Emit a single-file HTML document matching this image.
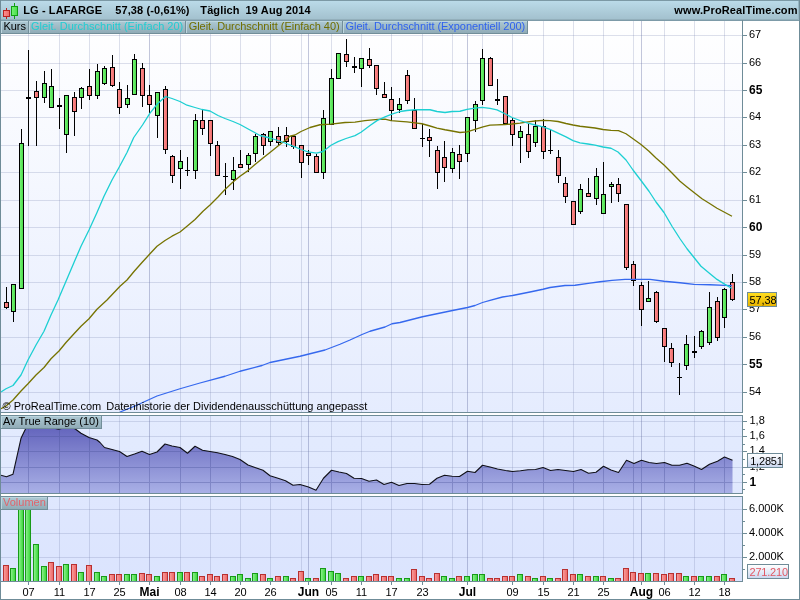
<!DOCTYPE html>
<html lang="de"><head><meta charset="utf-8"><title>LG - LAFARGE</title>
<style>html,body{margin:0;padding:0;background:#fff;overflow:hidden}svg{display:block}text{font-family:"Liberation Sans",Arial,sans-serif;font-size:11px;fill:#000}.b{font-weight:bold;letter-spacing:0.12px}.B{font-weight:bold;font-size:12px}</style></head><body>
<svg width="800" height="600" viewBox="0 0 800 600">
<defs>
<linearGradient id="hdr" x1="0" y1="0" x2="0" y2="1"><stop offset="0" stop-color="#bcdcea"/><stop offset="1" stop-color="#a2c0cd"/></linearGradient>
<linearGradient id="lbl" x1="0" y1="0" x2="0" y2="1"><stop offset="0" stop-color="#adc9d4"/><stop offset="1" stop-color="#8ea9b4"/></linearGradient>
<linearGradient id="bg" x1="0" y1="0" x2="0" y2="1"><stop offset="0" stop-color="#ffffff"/><stop offset="1" stop-color="#e5ecfe"/></linearGradient>
<linearGradient id="bg2" x1="0" y1="0" x2="0" y2="1"><stop offset="0" stop-color="#e3ebfe"/><stop offset="1" stop-color="#e0e8fe"/></linearGradient>
<linearGradient id="bg3" x1="0" y1="0" x2="0" y2="1"><stop offset="0" stop-color="#dfe7fe"/><stop offset="1" stop-color="#dbe4fe"/></linearGradient>
<linearGradient id="atr" gradientUnits="userSpaceOnUse" x1="0" y1="416" x2="0" y2="493"><stop offset="0" stop-color="#5858b6"/><stop offset="1" stop-color="#a9b0e6"/></linearGradient>
<linearGradient id="gold" x1="0" y1="0" x2="0" y2="1"><stop offset="0" stop-color="#ffde20"/><stop offset="1" stop-color="#e8b400"/></linearGradient>
<linearGradient id="vbox" x1="0" y1="0" x2="0" y2="1"><stop offset="0" stop-color="#ffffff"/><stop offset="1" stop-color="#ccd8f0"/></linearGradient>
<linearGradient id="vg" x1="0" y1="0" x2="1" y2="0"><stop offset="0" stop-color="#8af08a"/><stop offset="1" stop-color="#3fd83f"/></linearGradient>
<linearGradient id="vr" x1="0" y1="0" x2="1" y2="0"><stop offset="0" stop-color="#f89a9a"/><stop offset="1" stop-color="#ee6a6a"/></linearGradient>
<linearGradient id="cg" x1="0" y1="0" x2="1" y2="0"><stop offset="0" stop-color="#74f274"/><stop offset="1" stop-color="#4cde4c"/></linearGradient>
<linearGradient id="cr" x1="0" y1="0" x2="1" y2="0"><stop offset="0" stop-color="#ff8c8c"/><stop offset="1" stop-color="#ec6c6c"/></linearGradient>
<clipPath id="cm"><rect x="1" y="21" width="741" height="391"/></clipPath>
<clipPath id="ca"><rect x="1" y="416" width="741" height="77"/></clipPath>
<clipPath id="cv"><rect x="1" y="497" width="741" height="84"/></clipPath>
</defs>
<rect x="0" y="0" width="800" height="600" fill="#ffffff"/>
<rect x="0" y="0" width="800" height="20" fill="url(#hdr)"/>
<rect x="0" y="19" width="800" height="1" fill="#93afbb" shape-rendering="crispEdges"/>
<rect x="798" y="1" width="1" height="19" fill="#98b6c3" shape-rendering="crispEdges"/>
<rect x="0" y="0" width="800" height="1" fill="#7c99a5" shape-rendering="crispEdges"/>
<rect x="1" y="21" width="741" height="391" fill="url(#bg)"/>
<rect x="1" y="416" width="741" height="77" fill="url(#bg2)"/>
<rect x="1" y="497" width="741" height="84" fill="url(#bg3)"/>
<g shape-rendering="crispEdges">
<rect x="1" y="35" width="741" height="1" fill="rgba(119,130,177,0.25)"/>
<rect x="1" y="63" width="741" height="1" fill="rgba(119,130,177,0.25)"/>
<rect x="1" y="90" width="741" height="1" fill="rgba(119,130,177,0.25)"/>
<rect x="1" y="117" width="741" height="1" fill="rgba(119,130,177,0.25)"/>
<rect x="1" y="145" width="741" height="1" fill="rgba(119,130,177,0.25)"/>
<rect x="1" y="172" width="741" height="1" fill="rgba(119,130,177,0.25)"/>
<rect x="1" y="200" width="741" height="1" fill="rgba(119,130,177,0.25)"/>
<rect x="1" y="227" width="741" height="1" fill="rgba(119,130,177,0.25)"/>
<rect x="1" y="255" width="741" height="1" fill="rgba(119,130,177,0.25)"/>
<rect x="1" y="282" width="741" height="1" fill="rgba(119,130,177,0.25)"/>
<rect x="1" y="309" width="741" height="1" fill="rgba(119,130,177,0.25)"/>
<rect x="1" y="337" width="741" height="1" fill="rgba(119,130,177,0.25)"/>
<rect x="1" y="364" width="741" height="1" fill="rgba(119,130,177,0.25)"/>
<rect x="1" y="392" width="741" height="1" fill="rgba(119,130,177,0.25)"/>
<rect x="1" y="421" width="741" height="1" fill="rgba(119,130,177,0.25)"/>
<rect x="1" y="436" width="741" height="1" fill="rgba(119,130,177,0.25)"/>
<rect x="1" y="451" width="741" height="1" fill="rgba(119,130,177,0.25)"/>
<rect x="1" y="467" width="741" height="1" fill="rgba(119,130,177,0.25)"/>
<rect x="1" y="482" width="741" height="1" fill="rgba(119,130,177,0.25)"/>
<rect x="1" y="509" width="741" height="1" fill="rgba(119,130,177,0.25)"/>
<rect x="1" y="533" width="741" height="1" fill="rgba(119,130,177,0.25)"/>
<rect x="1" y="557" width="741" height="1" fill="rgba(119,130,177,0.25)"/>
<rect x="28" y="21" width="1" height="391" fill="rgba(119,130,177,0.25)"/>
<rect x="28" y="416" width="1" height="77" fill="rgba(119,130,177,0.25)"/>
<rect x="28" y="497" width="1" height="84" fill="rgba(119,130,177,0.25)"/>
<rect x="59" y="21" width="1" height="391" fill="rgba(119,130,177,0.25)"/>
<rect x="59" y="416" width="1" height="77" fill="rgba(119,130,177,0.25)"/>
<rect x="59" y="497" width="1" height="84" fill="rgba(119,130,177,0.25)"/>
<rect x="89" y="21" width="1" height="391" fill="rgba(119,130,177,0.25)"/>
<rect x="89" y="416" width="1" height="77" fill="rgba(119,130,177,0.25)"/>
<rect x="89" y="497" width="1" height="84" fill="rgba(119,130,177,0.25)"/>
<rect x="119" y="21" width="1" height="391" fill="rgba(119,130,177,0.25)"/>
<rect x="119" y="416" width="1" height="77" fill="rgba(119,130,177,0.25)"/>
<rect x="119" y="497" width="1" height="84" fill="rgba(119,130,177,0.25)"/>
<rect x="149" y="21" width="1" height="391" fill="rgba(105,115,165,0.40)"/>
<rect x="149" y="416" width="1" height="77" fill="rgba(105,115,165,0.40)"/>
<rect x="149" y="497" width="1" height="84" fill="rgba(105,115,165,0.40)"/>
<rect x="180" y="21" width="1" height="391" fill="rgba(119,130,177,0.25)"/>
<rect x="180" y="416" width="1" height="77" fill="rgba(119,130,177,0.25)"/>
<rect x="180" y="497" width="1" height="84" fill="rgba(119,130,177,0.25)"/>
<rect x="210" y="21" width="1" height="391" fill="rgba(119,130,177,0.25)"/>
<rect x="210" y="416" width="1" height="77" fill="rgba(119,130,177,0.25)"/>
<rect x="210" y="497" width="1" height="84" fill="rgba(119,130,177,0.25)"/>
<rect x="240" y="21" width="1" height="391" fill="rgba(119,130,177,0.25)"/>
<rect x="240" y="416" width="1" height="77" fill="rgba(119,130,177,0.25)"/>
<rect x="240" y="497" width="1" height="84" fill="rgba(119,130,177,0.25)"/>
<rect x="270" y="21" width="1" height="391" fill="rgba(119,130,177,0.25)"/>
<rect x="270" y="416" width="1" height="77" fill="rgba(119,130,177,0.25)"/>
<rect x="270" y="497" width="1" height="84" fill="rgba(119,130,177,0.25)"/>
<rect x="301" y="21" width="1" height="391" fill="rgba(119,130,177,0.25)"/>
<rect x="301" y="416" width="1" height="77" fill="rgba(119,130,177,0.25)"/>
<rect x="301" y="497" width="1" height="84" fill="rgba(119,130,177,0.25)"/>
<rect x="331" y="21" width="1" height="391" fill="rgba(119,130,177,0.25)"/>
<rect x="331" y="416" width="1" height="77" fill="rgba(119,130,177,0.25)"/>
<rect x="331" y="497" width="1" height="84" fill="rgba(119,130,177,0.25)"/>
<rect x="361" y="21" width="1" height="391" fill="rgba(119,130,177,0.25)"/>
<rect x="361" y="416" width="1" height="77" fill="rgba(119,130,177,0.25)"/>
<rect x="361" y="497" width="1" height="84" fill="rgba(119,130,177,0.25)"/>
<rect x="391" y="21" width="1" height="391" fill="rgba(119,130,177,0.25)"/>
<rect x="391" y="416" width="1" height="77" fill="rgba(119,130,177,0.25)"/>
<rect x="391" y="497" width="1" height="84" fill="rgba(119,130,177,0.25)"/>
<rect x="422" y="21" width="1" height="391" fill="rgba(119,130,177,0.25)"/>
<rect x="422" y="416" width="1" height="77" fill="rgba(119,130,177,0.25)"/>
<rect x="422" y="497" width="1" height="84" fill="rgba(119,130,177,0.25)"/>
<rect x="452" y="21" width="1" height="391" fill="rgba(119,130,177,0.25)"/>
<rect x="452" y="416" width="1" height="77" fill="rgba(119,130,177,0.25)"/>
<rect x="452" y="497" width="1" height="84" fill="rgba(119,130,177,0.25)"/>
<rect x="482" y="21" width="1" height="391" fill="rgba(119,130,177,0.25)"/>
<rect x="482" y="416" width="1" height="77" fill="rgba(119,130,177,0.25)"/>
<rect x="482" y="497" width="1" height="84" fill="rgba(119,130,177,0.25)"/>
<rect x="512" y="21" width="1" height="391" fill="rgba(119,130,177,0.25)"/>
<rect x="512" y="416" width="1" height="77" fill="rgba(119,130,177,0.25)"/>
<rect x="512" y="497" width="1" height="84" fill="rgba(119,130,177,0.25)"/>
<rect x="543" y="21" width="1" height="391" fill="rgba(119,130,177,0.25)"/>
<rect x="543" y="416" width="1" height="77" fill="rgba(119,130,177,0.25)"/>
<rect x="543" y="497" width="1" height="84" fill="rgba(119,130,177,0.25)"/>
<rect x="573" y="21" width="1" height="391" fill="rgba(119,130,177,0.25)"/>
<rect x="573" y="416" width="1" height="77" fill="rgba(119,130,177,0.25)"/>
<rect x="573" y="497" width="1" height="84" fill="rgba(119,130,177,0.25)"/>
<rect x="603" y="21" width="1" height="391" fill="rgba(119,130,177,0.25)"/>
<rect x="603" y="416" width="1" height="77" fill="rgba(119,130,177,0.25)"/>
<rect x="603" y="497" width="1" height="84" fill="rgba(119,130,177,0.25)"/>
<rect x="633" y="21" width="1" height="391" fill="rgba(119,130,177,0.25)"/>
<rect x="633" y="416" width="1" height="77" fill="rgba(119,130,177,0.25)"/>
<rect x="633" y="497" width="1" height="84" fill="rgba(119,130,177,0.25)"/>
<rect x="664" y="21" width="1" height="391" fill="rgba(119,130,177,0.25)"/>
<rect x="664" y="416" width="1" height="77" fill="rgba(119,130,177,0.25)"/>
<rect x="664" y="497" width="1" height="84" fill="rgba(119,130,177,0.25)"/>
<rect x="694" y="21" width="1" height="391" fill="rgba(119,130,177,0.25)"/>
<rect x="694" y="416" width="1" height="77" fill="rgba(119,130,177,0.25)"/>
<rect x="694" y="497" width="1" height="84" fill="rgba(119,130,177,0.25)"/>
<rect x="724" y="21" width="1" height="391" fill="rgba(119,130,177,0.25)"/>
<rect x="724" y="416" width="1" height="77" fill="rgba(119,130,177,0.25)"/>
<rect x="724" y="497" width="1" height="84" fill="rgba(119,130,177,0.25)"/>
<rect x="308" y="21" width="1" height="391" fill="rgba(105,115,165,0.40)"/>
<rect x="308" y="416" width="1" height="77" fill="rgba(105,115,165,0.40)"/>
<rect x="308" y="497" width="1" height="84" fill="rgba(105,115,165,0.40)"/>
<rect x="467" y="21" width="1" height="391" fill="rgba(105,115,165,0.40)"/>
<rect x="467" y="416" width="1" height="77" fill="rgba(105,115,165,0.40)"/>
<rect x="467" y="497" width="1" height="84" fill="rgba(105,115,165,0.40)"/>
<rect x="641" y="21" width="1" height="391" fill="rgba(105,115,165,0.40)"/>
<rect x="641" y="416" width="1" height="77" fill="rgba(105,115,165,0.40)"/>
<rect x="641" y="497" width="1" height="84" fill="rgba(105,115,165,0.40)"/>
</g>
<g shape-rendering="crispEdges" clip-path="url(#cm)">
<rect x="6" y="287" width="1" height="22" fill="#000"/>
<rect x="4" y="302" width="5" height="6" fill="#000"/>
<rect x="5" y="303" width="3" height="4" fill="url(#cr)"/>
<rect x="13" y="284" width="1" height="38" fill="#000"/>
<rect x="11" y="284" width="5" height="28" fill="#000"/>
<rect x="12" y="285" width="3" height="26" fill="url(#cg)"/>
<rect x="21" y="129" width="1" height="160" fill="#000"/>
<rect x="19" y="143" width="5" height="146" fill="#000"/>
<rect x="20" y="144" width="3" height="144" fill="url(#cg)"/>
<rect x="28" y="50" width="1" height="96" fill="#000"/>
<rect x="26" y="97" width="5" height="2" fill="#000"/>
<rect x="36" y="81" width="1" height="65" fill="#000"/>
<rect x="34" y="91" width="5" height="7" fill="#000"/>
<rect x="35" y="92" width="3" height="5" fill="url(#cr)"/>
<rect x="44" y="71" width="1" height="32" fill="#000"/>
<rect x="42" y="83" width="5" height="15" fill="#000"/>
<rect x="43" y="84" width="3" height="13" fill="url(#cg)"/>
<rect x="51" y="69" width="1" height="39" fill="#000"/>
<rect x="49" y="86" width="5" height="22" fill="#000"/>
<rect x="50" y="87" width="3" height="20" fill="url(#cg)"/>
<rect x="59" y="98" width="1" height="31" fill="#000"/>
<rect x="57" y="105" width="5" height="2" fill="#000"/>
<rect x="66" y="95" width="1" height="58" fill="#000"/>
<rect x="64" y="95" width="5" height="40" fill="#000"/>
<rect x="65" y="96" width="3" height="38" fill="url(#cg)"/>
<rect x="74" y="92" width="1" height="44" fill="#000"/>
<rect x="72" y="97" width="5" height="15" fill="#000"/>
<rect x="73" y="98" width="3" height="13" fill="url(#cr)"/>
<rect x="81" y="87" width="1" height="22" fill="#000"/>
<rect x="79" y="88" width="5" height="10" fill="#000"/>
<rect x="80" y="89" width="3" height="8" fill="url(#cg)"/>
<rect x="89" y="69" width="1" height="31" fill="#000"/>
<rect x="87" y="86" width="5" height="10" fill="#000"/>
<rect x="88" y="87" width="3" height="8" fill="url(#cr)"/>
<rect x="97" y="64" width="1" height="35" fill="#000"/>
<rect x="95" y="71" width="5" height="25" fill="#000"/>
<rect x="96" y="72" width="3" height="23" fill="url(#cg)"/>
<rect x="104" y="66" width="1" height="19" fill="#000"/>
<rect x="102" y="68" width="5" height="16" fill="#000"/>
<rect x="103" y="69" width="3" height="14" fill="url(#cg)"/>
<rect x="112" y="55" width="1" height="32" fill="#000"/>
<rect x="110" y="67" width="5" height="19" fill="#000"/>
<rect x="111" y="68" width="3" height="17" fill="url(#cr)"/>
<rect x="119" y="82" width="1" height="32" fill="#000"/>
<rect x="117" y="89" width="5" height="19" fill="#000"/>
<rect x="118" y="90" width="3" height="17" fill="url(#cr)"/>
<rect x="127" y="85" width="1" height="23" fill="#000"/>
<rect x="125" y="98" width="5" height="7" fill="#000"/>
<rect x="126" y="99" width="3" height="5" fill="url(#cg)"/>
<rect x="134" y="54" width="1" height="41" fill="#000"/>
<rect x="132" y="59" width="5" height="36" fill="#000"/>
<rect x="133" y="60" width="3" height="34" fill="url(#cg)"/>
<rect x="142" y="63" width="1" height="44" fill="#000"/>
<rect x="140" y="68" width="5" height="28" fill="#000"/>
<rect x="141" y="69" width="3" height="26" fill="url(#cr)"/>
<rect x="149" y="85" width="1" height="28" fill="#000"/>
<rect x="147" y="95" width="5" height="10" fill="#000"/>
<rect x="148" y="96" width="3" height="8" fill="url(#cr)"/>
<rect x="157" y="92" width="1" height="46" fill="#000"/>
<rect x="155" y="92" width="5" height="24" fill="#000"/>
<rect x="156" y="93" width="3" height="22" fill="url(#cg)"/>
<rect x="165" y="86" width="1" height="68" fill="#000"/>
<rect x="163" y="89" width="5" height="61" fill="#000"/>
<rect x="164" y="90" width="3" height="59" fill="url(#cr)"/>
<rect x="172" y="155" width="1" height="28" fill="#000"/>
<rect x="170" y="156" width="5" height="20" fill="#000"/>
<rect x="171" y="157" width="3" height="18" fill="url(#cr)"/>
<rect x="180" y="150" width="1" height="39" fill="#000"/>
<rect x="178" y="161" width="5" height="8" fill="#000"/>
<rect x="179" y="162" width="3" height="6" fill="url(#cg)"/>
<rect x="187" y="157" width="1" height="19" fill="#000"/>
<rect x="185" y="170" width="5" height="1" fill="#000"/>
<rect x="195" y="114" width="1" height="65" fill="#000"/>
<rect x="193" y="120" width="5" height="51" fill="#000"/>
<rect x="194" y="121" width="3" height="49" fill="url(#cg)"/>
<rect x="202" y="110" width="1" height="25" fill="#000"/>
<rect x="200" y="120" width="5" height="9" fill="#000"/>
<rect x="201" y="121" width="3" height="7" fill="url(#cr)"/>
<rect x="210" y="120" width="1" height="36" fill="#000"/>
<rect x="208" y="120" width="5" height="24" fill="#000"/>
<rect x="209" y="121" width="3" height="22" fill="url(#cr)"/>
<rect x="217" y="141" width="1" height="35" fill="#000"/>
<rect x="215" y="145" width="5" height="31" fill="#000"/>
<rect x="216" y="146" width="3" height="29" fill="url(#cr)"/>
<rect x="225" y="163" width="1" height="32" fill="#000"/>
<rect x="223" y="176" width="5" height="1" fill="#000"/>
<rect x="233" y="157" width="1" height="33" fill="#000"/>
<rect x="231" y="170" width="5" height="10" fill="#000"/>
<rect x="232" y="171" width="3" height="8" fill="url(#cg)"/>
<rect x="240" y="150" width="1" height="18" fill="#000"/>
<rect x="238" y="164" width="5" height="4" fill="#000"/>
<rect x="239" y="165" width="3" height="2" fill="url(#cr)"/>
<rect x="248" y="153" width="1" height="19" fill="#000"/>
<rect x="246" y="155" width="5" height="10" fill="#000"/>
<rect x="247" y="156" width="3" height="8" fill="url(#cg)"/>
<rect x="255" y="134" width="1" height="28" fill="#000"/>
<rect x="253" y="136" width="5" height="18" fill="#000"/>
<rect x="254" y="137" width="3" height="16" fill="url(#cg)"/>
<rect x="263" y="133" width="1" height="22" fill="#000"/>
<rect x="261" y="134" width="5" height="12" fill="#000"/>
<rect x="262" y="135" width="3" height="10" fill="url(#cr)"/>
<rect x="270" y="131" width="1" height="15" fill="#000"/>
<rect x="268" y="131" width="5" height="11" fill="#000"/>
<rect x="269" y="132" width="3" height="9" fill="url(#cg)"/>
<rect x="278" y="127" width="1" height="18" fill="#000"/>
<rect x="276" y="136" width="5" height="7" fill="#000"/>
<rect x="277" y="137" width="3" height="5" fill="url(#cr)"/>
<rect x="286" y="127" width="1" height="20" fill="#000"/>
<rect x="284" y="135" width="5" height="7" fill="#000"/>
<rect x="285" y="136" width="3" height="5" fill="url(#cr)"/>
<rect x="293" y="136" width="1" height="13" fill="#000"/>
<rect x="291" y="136" width="5" height="11" fill="#000"/>
<rect x="292" y="137" width="3" height="9" fill="url(#cr)"/>
<rect x="301" y="145" width="1" height="33" fill="#000"/>
<rect x="299" y="145" width="5" height="18" fill="#000"/>
<rect x="300" y="146" width="3" height="16" fill="url(#cr)"/>
<rect x="308" y="150" width="1" height="15" fill="#000"/>
<rect x="306" y="153" width="5" height="3" fill="#000"/>
<rect x="307" y="154" width="3" height="1" fill="url(#cr)"/>
<rect x="316" y="154" width="1" height="19" fill="#000"/>
<rect x="314" y="156" width="5" height="17" fill="#000"/>
<rect x="315" y="157" width="3" height="15" fill="url(#cr)"/>
<rect x="323" y="110" width="1" height="69" fill="#000"/>
<rect x="321" y="118" width="5" height="55" fill="#000"/>
<rect x="322" y="119" width="3" height="53" fill="url(#cg)"/>
<rect x="331" y="69" width="1" height="56" fill="#000"/>
<rect x="329" y="78" width="5" height="47" fill="#000"/>
<rect x="330" y="79" width="3" height="45" fill="url(#cg)"/>
<rect x="338" y="53" width="1" height="26" fill="#000"/>
<rect x="336" y="53" width="5" height="26" fill="#000"/>
<rect x="337" y="54" width="3" height="24" fill="url(#cg)"/>
<rect x="346" y="39" width="1" height="28" fill="#000"/>
<rect x="344" y="54" width="5" height="8" fill="#000"/>
<rect x="345" y="55" width="3" height="6" fill="url(#cr)"/>
<rect x="354" y="57" width="1" height="16" fill="#000"/>
<rect x="352" y="66" width="5" height="2" fill="#000"/>
<rect x="361" y="58" width="1" height="29" fill="#000"/>
<rect x="359" y="58" width="5" height="11" fill="#000"/>
<rect x="360" y="59" width="3" height="9" fill="url(#cg)"/>
<rect x="369" y="48" width="1" height="20" fill="#000"/>
<rect x="367" y="59" width="5" height="7" fill="#000"/>
<rect x="368" y="60" width="3" height="5" fill="url(#cr)"/>
<rect x="376" y="65" width="1" height="30" fill="#000"/>
<rect x="374" y="65" width="5" height="24" fill="#000"/>
<rect x="375" y="66" width="3" height="22" fill="url(#cr)"/>
<rect x="384" y="82" width="1" height="16" fill="#000"/>
<rect x="382" y="94" width="5" height="4" fill="#000"/>
<rect x="383" y="95" width="3" height="2" fill="url(#cr)"/>
<rect x="391" y="87" width="1" height="34" fill="#000"/>
<rect x="389" y="99" width="5" height="12" fill="#000"/>
<rect x="390" y="100" width="3" height="10" fill="url(#cr)"/>
<rect x="399" y="98" width="1" height="15" fill="#000"/>
<rect x="397" y="104" width="5" height="6" fill="#000"/>
<rect x="398" y="105" width="3" height="4" fill="url(#cg)"/>
<rect x="407" y="70" width="1" height="34" fill="#000"/>
<rect x="405" y="75" width="5" height="26" fill="#000"/>
<rect x="406" y="76" width="3" height="24" fill="url(#cr)"/>
<rect x="414" y="98" width="1" height="31" fill="#000"/>
<rect x="412" y="110" width="5" height="19" fill="#000"/>
<rect x="413" y="111" width="3" height="17" fill="url(#cr)"/>
<rect x="422" y="124" width="1" height="23" fill="#000"/>
<rect x="420" y="138" width="5" height="1" fill="#000"/>
<rect x="429" y="129" width="1" height="28" fill="#000"/>
<rect x="427" y="137" width="5" height="4" fill="#000"/>
<rect x="428" y="138" width="3" height="2" fill="url(#cr)"/>
<rect x="437" y="146" width="1" height="43" fill="#000"/>
<rect x="435" y="150" width="5" height="23" fill="#000"/>
<rect x="436" y="151" width="3" height="21" fill="url(#cr)"/>
<rect x="444" y="141" width="1" height="41" fill="#000"/>
<rect x="442" y="157" width="5" height="11" fill="#000"/>
<rect x="443" y="158" width="3" height="9" fill="url(#cr)"/>
<rect x="452" y="148" width="1" height="25" fill="#000"/>
<rect x="450" y="152" width="5" height="17" fill="#000"/>
<rect x="451" y="153" width="3" height="15" fill="url(#cg)"/>
<rect x="459" y="145" width="1" height="34" fill="#000"/>
<rect x="457" y="154" width="5" height="8" fill="#000"/>
<rect x="458" y="155" width="3" height="6" fill="url(#cr)"/>
<rect x="467" y="117" width="1" height="45" fill="#000"/>
<rect x="465" y="117" width="5" height="37" fill="#000"/>
<rect x="466" y="118" width="3" height="35" fill="url(#cg)"/>
<rect x="475" y="101" width="1" height="31" fill="#000"/>
<rect x="473" y="104" width="5" height="17" fill="#000"/>
<rect x="474" y="105" width="3" height="15" fill="url(#cg)"/>
<rect x="482" y="49" width="1" height="56" fill="#000"/>
<rect x="480" y="58" width="5" height="43" fill="#000"/>
<rect x="481" y="59" width="3" height="41" fill="url(#cg)"/>
<rect x="490" y="57" width="1" height="29" fill="#000"/>
<rect x="488" y="58" width="5" height="28" fill="#000"/>
<rect x="489" y="59" width="3" height="26" fill="url(#cr)"/>
<rect x="497" y="79" width="1" height="26" fill="#000"/>
<rect x="495" y="99" width="5" height="2" fill="#000"/>
<rect x="505" y="96" width="1" height="28" fill="#000"/>
<rect x="503" y="96" width="5" height="28" fill="#000"/>
<rect x="504" y="97" width="3" height="26" fill="url(#cr)"/>
<rect x="512" y="118" width="1" height="28" fill="#000"/>
<rect x="510" y="120" width="5" height="15" fill="#000"/>
<rect x="511" y="121" width="3" height="13" fill="url(#cr)"/>
<rect x="520" y="126" width="1" height="37" fill="#000"/>
<rect x="518" y="131" width="5" height="7" fill="#000"/>
<rect x="519" y="132" width="3" height="5" fill="url(#cg)"/>
<rect x="528" y="124" width="1" height="34" fill="#000"/>
<rect x="526" y="134" width="5" height="18" fill="#000"/>
<rect x="527" y="135" width="3" height="16" fill="url(#cr)"/>
<rect x="535" y="120" width="1" height="27" fill="#000"/>
<rect x="533" y="126" width="5" height="17" fill="#000"/>
<rect x="534" y="127" width="3" height="15" fill="url(#cg)"/>
<rect x="543" y="119" width="1" height="40" fill="#000"/>
<rect x="541" y="126" width="5" height="26" fill="#000"/>
<rect x="542" y="127" width="3" height="24" fill="url(#cr)"/>
<rect x="550" y="130" width="1" height="24" fill="#000"/>
<rect x="548" y="150" width="5" height="1" fill="#000"/>
<rect x="558" y="150" width="1" height="33" fill="#000"/>
<rect x="556" y="157" width="5" height="19" fill="#000"/>
<rect x="557" y="158" width="3" height="17" fill="url(#cr)"/>
<rect x="565" y="177" width="1" height="26" fill="#000"/>
<rect x="563" y="183" width="5" height="14" fill="#000"/>
<rect x="564" y="184" width="3" height="12" fill="url(#cr)"/>
<rect x="573" y="201" width="1" height="24" fill="#000"/>
<rect x="571" y="201" width="5" height="24" fill="#000"/>
<rect x="572" y="202" width="3" height="22" fill="url(#cr)"/>
<rect x="580" y="184" width="1" height="30" fill="#000"/>
<rect x="578" y="189" width="5" height="23" fill="#000"/>
<rect x="579" y="190" width="3" height="21" fill="url(#cg)"/>
<rect x="588" y="178" width="1" height="19" fill="#000"/>
<rect x="586" y="193" width="5" height="4" fill="#000"/>
<rect x="587" y="194" width="3" height="2" fill="url(#cr)"/>
<rect x="596" y="168" width="1" height="37" fill="#000"/>
<rect x="594" y="176" width="5" height="23" fill="#000"/>
<rect x="595" y="177" width="3" height="21" fill="url(#cg)"/>
<rect x="603" y="162" width="1" height="52" fill="#000"/>
<rect x="601" y="194" width="5" height="20" fill="#000"/>
<rect x="602" y="195" width="3" height="18" fill="url(#cg)"/>
<rect x="611" y="182" width="1" height="21" fill="#000"/>
<rect x="609" y="184" width="5" height="3" fill="#000"/>
<rect x="610" y="185" width="3" height="1" fill="url(#cg)"/>
<rect x="618" y="178" width="1" height="24" fill="#000"/>
<rect x="616" y="184" width="5" height="10" fill="#000"/>
<rect x="617" y="185" width="3" height="8" fill="url(#cr)"/>
<rect x="626" y="204" width="1" height="66" fill="#000"/>
<rect x="624" y="204" width="5" height="64" fill="#000"/>
<rect x="625" y="205" width="3" height="62" fill="url(#cr)"/>
<rect x="633" y="261" width="1" height="25" fill="#000"/>
<rect x="631" y="264" width="5" height="17" fill="#000"/>
<rect x="632" y="265" width="3" height="15" fill="url(#cr)"/>
<rect x="641" y="282" width="1" height="44" fill="#000"/>
<rect x="639" y="285" width="5" height="25" fill="#000"/>
<rect x="640" y="286" width="3" height="23" fill="url(#cr)"/>
<rect x="648" y="281" width="1" height="21" fill="#000"/>
<rect x="646" y="298" width="5" height="4" fill="#000"/>
<rect x="647" y="299" width="3" height="2" fill="url(#cg)"/>
<rect x="656" y="291" width="1" height="32" fill="#000"/>
<rect x="654" y="292" width="5" height="30" fill="#000"/>
<rect x="655" y="293" width="3" height="28" fill="url(#cr)"/>
<rect x="664" y="328" width="1" height="34" fill="#000"/>
<rect x="662" y="328" width="5" height="19" fill="#000"/>
<rect x="663" y="329" width="3" height="17" fill="url(#cr)"/>
<rect x="671" y="343" width="1" height="24" fill="#000"/>
<rect x="669" y="348" width="5" height="15" fill="#000"/>
<rect x="670" y="349" width="3" height="13" fill="url(#cr)"/>
<rect x="679" y="363" width="1" height="32" fill="#000"/>
<rect x="677" y="377" width="5" height="1" fill="#000"/>
<rect x="686" y="335" width="1" height="35" fill="#000"/>
<rect x="684" y="344" width="5" height="22" fill="#000"/>
<rect x="685" y="345" width="3" height="20" fill="url(#cg)"/>
<rect x="694" y="336" width="1" height="22" fill="#000"/>
<rect x="692" y="351" width="5" height="2" fill="#000"/>
<rect x="701" y="330" width="1" height="19" fill="#000"/>
<rect x="699" y="331" width="5" height="16" fill="#000"/>
<rect x="700" y="332" width="3" height="14" fill="url(#cg)"/>
<rect x="709" y="292" width="1" height="53" fill="#000"/>
<rect x="707" y="307" width="5" height="36" fill="#000"/>
<rect x="708" y="308" width="3" height="34" fill="url(#cg)"/>
<rect x="717" y="297" width="1" height="44" fill="#000"/>
<rect x="715" y="301" width="5" height="37" fill="#000"/>
<rect x="716" y="302" width="3" height="35" fill="url(#cr)"/>
<rect x="724" y="288" width="1" height="40" fill="#000"/>
<rect x="722" y="289" width="5" height="29" fill="#000"/>
<rect x="723" y="290" width="3" height="27" fill="url(#cg)"/>
<rect x="732" y="274" width="1" height="27" fill="#000"/>
<rect x="730" y="282" width="5" height="18" fill="#000"/>
<rect x="731" y="283" width="3" height="16" fill="url(#cr)"/>
</g>
<g clip-path="url(#cm)" fill="none" stroke-width="1.3" stroke-linejoin="round">
<path d="M120.00 412.00 L135.00 406.00 L157.00 396.00 L180.00 388.75 L200.00 383.00 L225.00 376.25 L240.00 371.25 L262.00 365.50 L270.00 362.50 L300.00 356.25 L325.00 350.00 L340.00 344.25 L350.00 340.00 L362.00 334.50 L370.00 331.25 L385.00 327.00 L392.00 323.75 L400.00 322.50 L422.50 316.75 L452.50 310.50 L467.50 307.50 L475.00 305.50 L482.50 302.50 L490.00 300.30 L502.50 297.00 L512.50 295.50 L530.00 292.00 L543.00 289.25 L550.00 287.50 L565.00 285.50 L575.00 285.25 L590.00 283.20 L600.00 281.75 L612.00 280.30 L625.00 279.40 L650.00 279.40 L664.00 281.25 L680.00 282.75 L694.00 284.40 L710.00 284.75 L725.00 285.40 L732.00 285.60" stroke="#3568ee"/>
<path d="M1.00 408.75 L6.00 406.00 L13.00 400.00 L21.00 391.00 L28.00 383.75 L36.00 375.00 L44.00 367.50 L51.00 358.75 L59.00 351.00 L66.00 342.50 L74.00 333.75 L81.00 326.25 L89.00 318.75 L97.00 309.25 L107.00 300.00 L120.00 286.25 L127.00 280.00 L134.00 271.50 L142.00 262.50 L150.00 253.75 L157.00 246.25 L165.00 240.50 L172.00 236.20 L180.00 232.00 L187.00 226.25 L195.00 219.50 L203.00 211.25 L210.00 205.00 L218.00 197.00 L225.00 189.50 L233.00 182.00 L240.00 176.25 L248.00 170.60 L255.00 164.50 L263.00 158.00 L270.60 151.90 L278.00 146.00 L285.00 140.50 L290.00 136.25 L295.00 135.00 L301.00 131.50 L310.00 127.50 L320.00 124.75 L331.00 124.10 L345.00 122.50 L355.00 122.10 L365.00 120.60 L378.00 119.40 L385.00 119.10 L391.00 120.60 L400.00 121.30 L407.00 121.90 L415.00 122.80 L422.00 123.75 L430.00 126.00 L437.00 128.10 L445.00 129.75 L452.00 131.00 L460.00 132.50 L467.00 131.90 L475.00 129.40 L483.00 126.90 L490.00 125.20 L497.00 124.80 L505.00 124.50 L512.00 124.00 L520.00 123.10 L528.00 121.90 L535.00 121.00 L543.00 120.40 L550.00 120.60 L558.00 121.50 L566.00 123.50 L573.00 125.00 L580.00 126.25 L595.00 128.00 L603.00 129.50 L611.00 130.40 L618.50 130.70 L626.00 133.75 L633.00 138.75 L641.00 144.50 L649.00 151.25 L656.00 158.00 L664.00 165.00 L672.00 173.00 L680.00 181.25 L687.00 187.00 L694.00 192.50 L702.00 198.75 L710.00 203.75 L717.00 208.25 L725.00 212.50 L732.00 216.25" stroke="#767300"/>
<path d="M1.00 392.00 L6.00 388.75 L13.00 385.50 L21.00 375.00 L28.00 360.00 L36.00 345.00 L44.00 331.25 L51.00 315.00 L58.00 300.00 L66.00 281.25 L74.00 262.50 L81.00 246.25 L89.00 230.00 L97.00 212.50 L104.00 196.25 L112.00 180.00 L119.00 167.50 L127.00 152.50 L133.75 137.50 L142.50 125.00 L150.00 113.10 L157.50 103.75 L165.60 96.50 L172.00 98.50 L180.00 101.50 L187.00 105.20 L195.00 107.50 L202.00 109.50 L210.00 111.00 L218.00 115.50 L225.00 118.50 L233.00 121.50 L240.00 124.50 L250.00 130.00 L260.00 135.50 L270.00 138.00 L278.00 140.50 L285.00 143.00 L295.00 146.90 L301.00 149.50 L308.00 151.90 L316.50 153.10 L323.00 151.50 L331.00 145.25 L338.00 141.60 L346.00 138.50 L355.00 135.60 L361.00 132.25 L370.00 125.60 L377.00 120.60 L385.00 116.90 L392.00 114.20 L400.00 111.50 L407.00 110.50 L415.00 109.75 L422.00 109.60 L430.00 109.75 L437.00 111.50 L445.00 112.50 L452.00 111.50 L460.00 111.25 L467.00 109.40 L475.00 108.10 L482.00 107.30 L490.00 108.30 L497.00 109.80 L505.00 113.75 L512.00 117.50 L520.00 120.50 L528.00 123.10 L535.00 125.00 L543.00 126.90 L550.00 129.40 L558.00 133.10 L566.00 136.90 L573.00 140.60 L580.00 142.80 L588.00 144.00 L595.00 145.20 L603.00 147.00 L611.00 148.25 L618.00 152.00 L626.00 160.00 L633.00 170.00 L641.00 180.50 L649.00 191.25 L656.00 202.00 L664.00 212.50 L672.00 226.25 L680.00 238.75 L687.00 248.75 L692.00 255.00 L701.00 266.25 L710.00 273.75 L717.00 279.40 L725.00 284.40 L732.00 288.50" stroke="#1ccfd2"/>
</g>
<g clip-path="url(#ca)">
<clipPath id="cp"><path d="M0.00 475.00 L6.50 476.70 L13.00 474.20 L21.00 438.30 L25.00 430.00 L28.00 425.00 L36.00 421.00 L44.00 423.00 L51.00 427.50 L58.50 429.30 L66.00 427.50 L72.00 427.00 L76.00 429.50 L81.00 433.30 L89.00 437.50 L97.00 440.00 L100.00 442.50 L104.50 447.50 L112.00 449.50 L119.50 451.50 L127.00 456.50 L134.50 454.00 L142.00 451.25 L149.50 454.50 L157.00 452.00 L165.00 444.00 L172.00 446.00 L180.00 447.50 L187.50 453.25 L195.00 446.25 L202.50 450.25 L210.00 451.50 L217.50 452.75 L225.00 454.50 L232.50 456.50 L240.00 459.50 L248.00 465.00 L255.00 467.50 L263.00 470.25 L270.00 475.75 L278.00 478.25 L285.50 480.75 L293.00 485.25 L300.00 484.50 L308.50 487.00 L316.00 490.25 L323.50 478.25 L331.50 470.25 L339.00 472.00 L346.50 473.50 L354.00 478.25 L361.50 478.50 L369.00 481.25 L376.50 480.00 L384.00 484.50 L391.50 482.25 L399.00 485.50 L407.00 483.50 L414.50 483.50 L422.00 484.50 L429.50 484.25 L437.00 478.25 L444.50 475.25 L452.00 476.25 L459.50 476.50 L467.50 471.25 L475.00 472.50 L482.50 465.25 L490.00 467.00 L497.50 469.00 L505.50 470.50 L512.50 471.50 L520.50 470.75 L528.00 469.75 L535.50 469.50 L543.00 467.50 L550.50 470.50 L558.00 469.50 L565.50 470.50 L573.50 471.50 L581.00 469.50 L588.50 473.25 L596.00 472.25 L603.50 466.25 L611.00 470.00 L618.50 472.50 L626.50 460.25 L634.00 463.50 L641.50 460.25 L649.00 462.50 L656.50 463.50 L664.50 462.50 L672.00 465.25 L679.50 465.25 L687.00 463.25 L694.50 466.20 L701.50 469.50 L709.50 464.20 L717.50 461.20 L724.50 457.00 L732.50 460.20 L732.5 493 L0 493 Z"/></clipPath>
<path d="M0.00 475.00 L6.50 476.70 L13.00 474.20 L21.00 438.30 L25.00 430.00 L28.00 425.00 L36.00 421.00 L44.00 423.00 L51.00 427.50 L58.50 429.30 L66.00 427.50 L72.00 427.00 L76.00 429.50 L81.00 433.30 L89.00 437.50 L97.00 440.00 L100.00 442.50 L104.50 447.50 L112.00 449.50 L119.50 451.50 L127.00 456.50 L134.50 454.00 L142.00 451.25 L149.50 454.50 L157.00 452.00 L165.00 444.00 L172.00 446.00 L180.00 447.50 L187.50 453.25 L195.00 446.25 L202.50 450.25 L210.00 451.50 L217.50 452.75 L225.00 454.50 L232.50 456.50 L240.00 459.50 L248.00 465.00 L255.00 467.50 L263.00 470.25 L270.00 475.75 L278.00 478.25 L285.50 480.75 L293.00 485.25 L300.00 484.50 L308.50 487.00 L316.00 490.25 L323.50 478.25 L331.50 470.25 L339.00 472.00 L346.50 473.50 L354.00 478.25 L361.50 478.50 L369.00 481.25 L376.50 480.00 L384.00 484.50 L391.50 482.25 L399.00 485.50 L407.00 483.50 L414.50 483.50 L422.00 484.50 L429.50 484.25 L437.00 478.25 L444.50 475.25 L452.00 476.25 L459.50 476.50 L467.50 471.25 L475.00 472.50 L482.50 465.25 L490.00 467.00 L497.50 469.00 L505.50 470.50 L512.50 471.50 L520.50 470.75 L528.00 469.75 L535.50 469.50 L543.00 467.50 L550.50 470.50 L558.00 469.50 L565.50 470.50 L573.50 471.50 L581.00 469.50 L588.50 473.25 L596.00 472.25 L603.50 466.25 L611.00 470.00 L618.50 472.50 L626.50 460.25 L634.00 463.50 L641.50 460.25 L649.00 462.50 L656.50 463.50 L664.50 462.50 L672.00 465.25 L679.50 465.25 L687.00 463.25 L694.50 466.20 L701.50 469.50 L709.50 464.20 L717.50 461.20 L724.50 457.00 L732.50 460.20 L732.5 493 L0 493 Z" fill="url(#atr)"/>
<g shape-rendering="crispEdges" clip-path="url(#cp)" opacity="0.36">
<rect x="1" y="421" width="732" height="1" fill="#4a5298"/>
<rect x="1" y="436" width="732" height="1" fill="#4a5298"/>
<rect x="1" y="451" width="732" height="1" fill="#4a5298"/>
<rect x="1" y="467" width="732" height="1" fill="#4a5298"/>
<rect x="1" y="482" width="732" height="1" fill="#4a5298"/>
<rect x="28" y="416" width="1" height="77" fill="#4a5298"/>
<rect x="59" y="416" width="1" height="77" fill="#4a5298"/>
<rect x="89" y="416" width="1" height="77" fill="#4a5298"/>
<rect x="119" y="416" width="1" height="77" fill="#4a5298"/>
<rect x="149" y="416" width="1" height="77" fill="#4a5298"/>
<rect x="180" y="416" width="1" height="77" fill="#4a5298"/>
<rect x="210" y="416" width="1" height="77" fill="#4a5298"/>
<rect x="240" y="416" width="1" height="77" fill="#4a5298"/>
<rect x="270" y="416" width="1" height="77" fill="#4a5298"/>
<rect x="301" y="416" width="1" height="77" fill="#4a5298"/>
<rect x="331" y="416" width="1" height="77" fill="#4a5298"/>
<rect x="361" y="416" width="1" height="77" fill="#4a5298"/>
<rect x="391" y="416" width="1" height="77" fill="#4a5298"/>
<rect x="422" y="416" width="1" height="77" fill="#4a5298"/>
<rect x="452" y="416" width="1" height="77" fill="#4a5298"/>
<rect x="482" y="416" width="1" height="77" fill="#4a5298"/>
<rect x="512" y="416" width="1" height="77" fill="#4a5298"/>
<rect x="543" y="416" width="1" height="77" fill="#4a5298"/>
<rect x="573" y="416" width="1" height="77" fill="#4a5298"/>
<rect x="603" y="416" width="1" height="77" fill="#4a5298"/>
<rect x="633" y="416" width="1" height="77" fill="#4a5298"/>
<rect x="664" y="416" width="1" height="77" fill="#4a5298"/>
<rect x="694" y="416" width="1" height="77" fill="#4a5298"/>
<rect x="724" y="416" width="1" height="77" fill="#4a5298"/>
<rect x="149" y="416" width="1" height="77" fill="#4a5298"/>
<rect x="308" y="416" width="1" height="77" fill="#4a5298"/>
<rect x="467" y="416" width="1" height="77" fill="#4a5298"/>
<rect x="641" y="416" width="1" height="77" fill="#4a5298"/>
<rect x="308" y="416" width="1" height="77" fill="#4a5298"/>
<rect x="467" y="416" width="1" height="77" fill="#4a5298"/>
<rect x="641" y="416" width="1" height="77" fill="#4a5298"/>
</g>
<path d="M0.00 475.00 L6.50 476.70 L13.00 474.20 L21.00 438.30 L25.00 430.00 L28.00 425.00 L36.00 421.00 L44.00 423.00 L51.00 427.50 L58.50 429.30 L66.00 427.50 L72.00 427.00 L76.00 429.50 L81.00 433.30 L89.00 437.50 L97.00 440.00 L100.00 442.50 L104.50 447.50 L112.00 449.50 L119.50 451.50 L127.00 456.50 L134.50 454.00 L142.00 451.25 L149.50 454.50 L157.00 452.00 L165.00 444.00 L172.00 446.00 L180.00 447.50 L187.50 453.25 L195.00 446.25 L202.50 450.25 L210.00 451.50 L217.50 452.75 L225.00 454.50 L232.50 456.50 L240.00 459.50 L248.00 465.00 L255.00 467.50 L263.00 470.25 L270.00 475.75 L278.00 478.25 L285.50 480.75 L293.00 485.25 L300.00 484.50 L308.50 487.00 L316.00 490.25 L323.50 478.25 L331.50 470.25 L339.00 472.00 L346.50 473.50 L354.00 478.25 L361.50 478.50 L369.00 481.25 L376.50 480.00 L384.00 484.50 L391.50 482.25 L399.00 485.50 L407.00 483.50 L414.50 483.50 L422.00 484.50 L429.50 484.25 L437.00 478.25 L444.50 475.25 L452.00 476.25 L459.50 476.50 L467.50 471.25 L475.00 472.50 L482.50 465.25 L490.00 467.00 L497.50 469.00 L505.50 470.50 L512.50 471.50 L520.50 470.75 L528.00 469.75 L535.50 469.50 L543.00 467.50 L550.50 470.50 L558.00 469.50 L565.50 470.50 L573.50 471.50 L581.00 469.50 L588.50 473.25 L596.00 472.25 L603.50 466.25 L611.00 470.00 L618.50 472.50 L626.50 460.25 L634.00 463.50 L641.50 460.25 L649.00 462.50 L656.50 463.50 L664.50 462.50 L672.00 465.25 L679.50 465.25 L687.00 463.25 L694.50 466.20 L701.50 469.50 L709.50 464.20 L717.50 461.20 L724.50 457.00 L732.50 460.20" fill="none" stroke="#101018" stroke-width="1.1" stroke-linejoin="round"/>
</g>
<g shape-rendering="crispEdges" clip-path="url(#cv)">
<rect x="3" y="565" width="6" height="16" fill="#b83030"/>
<rect x="4" y="566" width="4" height="15" fill="url(#vr)"/>
<rect x="10" y="568" width="6" height="13" fill="#189a18"/>
<rect x="11" y="569" width="4" height="12" fill="url(#vg)"/>
<rect x="18" y="490" width="6" height="91" fill="#189a18"/>
<rect x="19" y="491" width="4" height="90" fill="url(#vg)"/>
<rect x="25" y="490" width="6" height="91" fill="#189a18"/>
<rect x="26" y="491" width="4" height="90" fill="url(#vg)"/>
<rect x="33" y="544" width="6" height="37" fill="#189a18"/>
<rect x="34" y="545" width="4" height="36" fill="url(#vg)"/>
<rect x="41" y="566" width="6" height="15" fill="#189a18"/>
<rect x="42" y="567" width="4" height="14" fill="url(#vg)"/>
<rect x="48" y="562" width="6" height="19" fill="#b83030"/>
<rect x="49" y="563" width="4" height="18" fill="url(#vr)"/>
<rect x="56" y="566" width="6" height="15" fill="#b83030"/>
<rect x="57" y="567" width="4" height="14" fill="url(#vr)"/>
<rect x="63" y="564" width="6" height="17" fill="#189a18"/>
<rect x="64" y="565" width="4" height="16" fill="url(#vg)"/>
<rect x="71" y="564" width="6" height="17" fill="#b83030"/>
<rect x="72" y="565" width="4" height="16" fill="url(#vr)"/>
<rect x="78" y="572" width="6" height="9" fill="#189a18"/>
<rect x="79" y="573" width="4" height="8" fill="url(#vg)"/>
<rect x="86" y="565" width="6" height="16" fill="#b83030"/>
<rect x="87" y="566" width="4" height="15" fill="url(#vr)"/>
<rect x="94" y="572" width="6" height="9" fill="#189a18"/>
<rect x="95" y="573" width="4" height="8" fill="url(#vg)"/>
<rect x="101" y="576" width="6" height="5" fill="#189a18"/>
<rect x="102" y="577" width="4" height="4" fill="url(#vg)"/>
<rect x="109" y="574" width="6" height="7" fill="#b83030"/>
<rect x="110" y="575" width="4" height="6" fill="url(#vr)"/>
<rect x="116" y="574" width="6" height="7" fill="#b83030"/>
<rect x="117" y="575" width="4" height="6" fill="url(#vr)"/>
<rect x="124" y="574" width="6" height="7" fill="#189a18"/>
<rect x="125" y="575" width="4" height="6" fill="url(#vg)"/>
<rect x="131" y="574" width="6" height="7" fill="#189a18"/>
<rect x="132" y="575" width="4" height="6" fill="url(#vg)"/>
<rect x="139" y="573" width="6" height="8" fill="#b83030"/>
<rect x="140" y="574" width="4" height="7" fill="url(#vr)"/>
<rect x="146" y="574" width="6" height="7" fill="#b83030"/>
<rect x="147" y="575" width="4" height="6" fill="url(#vr)"/>
<rect x="154" y="576" width="6" height="5" fill="#189a18"/>
<rect x="155" y="577" width="4" height="4" fill="url(#vg)"/>
<rect x="162" y="572" width="6" height="9" fill="#b83030"/>
<rect x="163" y="573" width="4" height="8" fill="url(#vr)"/>
<rect x="169" y="572" width="6" height="9" fill="#b83030"/>
<rect x="170" y="573" width="4" height="8" fill="url(#vr)"/>
<rect x="177" y="572" width="6" height="9" fill="#189a18"/>
<rect x="178" y="573" width="4" height="8" fill="url(#vg)"/>
<rect x="184" y="572" width="6" height="9" fill="#b83030"/>
<rect x="185" y="573" width="4" height="8" fill="url(#vr)"/>
<rect x="192" y="572" width="6" height="9" fill="#189a18"/>
<rect x="193" y="573" width="4" height="8" fill="url(#vg)"/>
<rect x="199" y="576" width="6" height="5" fill="#b83030"/>
<rect x="200" y="577" width="4" height="4" fill="url(#vr)"/>
<rect x="207" y="574" width="6" height="7" fill="#b83030"/>
<rect x="208" y="575" width="4" height="6" fill="url(#vr)"/>
<rect x="214" y="576" width="6" height="5" fill="#b83030"/>
<rect x="215" y="577" width="4" height="4" fill="url(#vr)"/>
<rect x="222" y="574" width="6" height="7" fill="#b83030"/>
<rect x="223" y="575" width="4" height="6" fill="url(#vr)"/>
<rect x="230" y="576" width="6" height="5" fill="#189a18"/>
<rect x="231" y="577" width="4" height="4" fill="url(#vg)"/>
<rect x="237" y="574" width="6" height="7" fill="#189a18"/>
<rect x="238" y="575" width="4" height="6" fill="url(#vg)"/>
<rect x="245" y="578" width="6" height="3" fill="#189a18"/>
<rect x="246" y="579" width="4" height="2" fill="url(#vg)"/>
<rect x="252" y="573" width="6" height="8" fill="#189a18"/>
<rect x="253" y="574" width="4" height="7" fill="url(#vg)"/>
<rect x="260" y="574" width="6" height="7" fill="#b83030"/>
<rect x="261" y="575" width="4" height="6" fill="url(#vr)"/>
<rect x="267" y="578" width="6" height="3" fill="#189a18"/>
<rect x="268" y="579" width="4" height="2" fill="url(#vg)"/>
<rect x="275" y="576" width="6" height="5" fill="#b83030"/>
<rect x="276" y="577" width="4" height="4" fill="url(#vr)"/>
<rect x="283" y="576" width="6" height="5" fill="#189a18"/>
<rect x="284" y="577" width="4" height="4" fill="url(#vg)"/>
<rect x="290" y="578" width="6" height="3" fill="#b83030"/>
<rect x="291" y="579" width="4" height="2" fill="url(#vr)"/>
<rect x="298" y="571" width="6" height="10" fill="#b83030"/>
<rect x="299" y="572" width="4" height="9" fill="url(#vr)"/>
<rect x="305" y="578" width="6" height="3" fill="#189a18"/>
<rect x="306" y="579" width="4" height="2" fill="url(#vg)"/>
<rect x="313" y="578" width="6" height="3" fill="#b83030"/>
<rect x="314" y="579" width="4" height="2" fill="url(#vr)"/>
<rect x="320" y="568" width="6" height="13" fill="#189a18"/>
<rect x="321" y="569" width="4" height="12" fill="url(#vg)"/>
<rect x="328" y="571" width="6" height="10" fill="#189a18"/>
<rect x="329" y="572" width="4" height="9" fill="url(#vg)"/>
<rect x="335" y="573" width="6" height="8" fill="#189a18"/>
<rect x="336" y="574" width="4" height="7" fill="url(#vg)"/>
<rect x="343" y="578" width="6" height="3" fill="#b83030"/>
<rect x="344" y="579" width="4" height="2" fill="url(#vr)"/>
<rect x="351" y="576" width="6" height="5" fill="#b83030"/>
<rect x="352" y="577" width="4" height="4" fill="url(#vr)"/>
<rect x="358" y="576" width="6" height="5" fill="#189a18"/>
<rect x="359" y="577" width="4" height="4" fill="url(#vg)"/>
<rect x="366" y="576" width="6" height="5" fill="#b83030"/>
<rect x="367" y="577" width="4" height="4" fill="url(#vr)"/>
<rect x="373" y="574" width="6" height="7" fill="#b83030"/>
<rect x="374" y="575" width="4" height="6" fill="url(#vr)"/>
<rect x="381" y="576" width="6" height="5" fill="#b83030"/>
<rect x="382" y="577" width="4" height="4" fill="url(#vr)"/>
<rect x="388" y="576" width="6" height="5" fill="#b83030"/>
<rect x="389" y="577" width="4" height="4" fill="url(#vr)"/>
<rect x="396" y="578" width="6" height="3" fill="#189a18"/>
<rect x="397" y="579" width="4" height="2" fill="url(#vg)"/>
<rect x="404" y="578" width="6" height="3" fill="#189a18"/>
<rect x="405" y="579" width="4" height="2" fill="url(#vg)"/>
<rect x="411" y="569" width="6" height="12" fill="#b83030"/>
<rect x="412" y="570" width="4" height="11" fill="url(#vr)"/>
<rect x="419" y="576" width="6" height="5" fill="#b83030"/>
<rect x="420" y="577" width="4" height="4" fill="url(#vr)"/>
<rect x="426" y="578" width="6" height="3" fill="#b83030"/>
<rect x="427" y="579" width="4" height="2" fill="url(#vr)"/>
<rect x="434" y="573" width="6" height="8" fill="#b83030"/>
<rect x="435" y="574" width="4" height="7" fill="url(#vr)"/>
<rect x="441" y="576" width="6" height="5" fill="#189a18"/>
<rect x="442" y="577" width="4" height="4" fill="url(#vg)"/>
<rect x="449" y="578" width="6" height="3" fill="#189a18"/>
<rect x="450" y="579" width="4" height="2" fill="url(#vg)"/>
<rect x="456" y="576" width="6" height="5" fill="#b83030"/>
<rect x="457" y="577" width="4" height="4" fill="url(#vr)"/>
<rect x="464" y="576" width="6" height="5" fill="#189a18"/>
<rect x="465" y="577" width="4" height="4" fill="url(#vg)"/>
<rect x="472" y="574" width="6" height="7" fill="#189a18"/>
<rect x="473" y="575" width="4" height="6" fill="url(#vg)"/>
<rect x="479" y="574" width="6" height="7" fill="#189a18"/>
<rect x="480" y="575" width="4" height="6" fill="url(#vg)"/>
<rect x="487" y="578" width="6" height="3" fill="#b83030"/>
<rect x="488" y="579" width="4" height="2" fill="url(#vr)"/>
<rect x="494" y="578" width="6" height="3" fill="#b83030"/>
<rect x="495" y="579" width="4" height="2" fill="url(#vr)"/>
<rect x="502" y="576" width="6" height="5" fill="#b83030"/>
<rect x="503" y="577" width="4" height="4" fill="url(#vr)"/>
<rect x="509" y="576" width="6" height="5" fill="#b83030"/>
<rect x="510" y="577" width="4" height="4" fill="url(#vr)"/>
<rect x="517" y="574" width="6" height="7" fill="#189a18"/>
<rect x="518" y="575" width="4" height="6" fill="url(#vg)"/>
<rect x="525" y="576" width="6" height="5" fill="#b83030"/>
<rect x="526" y="577" width="4" height="4" fill="url(#vr)"/>
<rect x="532" y="578" width="6" height="3" fill="#189a18"/>
<rect x="533" y="579" width="4" height="2" fill="url(#vg)"/>
<rect x="540" y="576" width="6" height="5" fill="#b83030"/>
<rect x="541" y="577" width="4" height="4" fill="url(#vr)"/>
<rect x="547" y="578" width="6" height="3" fill="#189a18"/>
<rect x="548" y="579" width="4" height="2" fill="url(#vg)"/>
<rect x="555" y="578" width="6" height="3" fill="#b83030"/>
<rect x="556" y="579" width="4" height="2" fill="url(#vr)"/>
<rect x="562" y="569" width="6" height="12" fill="#b83030"/>
<rect x="563" y="570" width="4" height="11" fill="url(#vr)"/>
<rect x="570" y="574" width="6" height="7" fill="#b83030"/>
<rect x="571" y="575" width="4" height="6" fill="url(#vr)"/>
<rect x="577" y="574" width="6" height="7" fill="#189a18"/>
<rect x="578" y="575" width="4" height="6" fill="url(#vg)"/>
<rect x="585" y="576" width="6" height="5" fill="#b83030"/>
<rect x="586" y="577" width="4" height="4" fill="url(#vr)"/>
<rect x="593" y="576" width="6" height="5" fill="#189a18"/>
<rect x="594" y="577" width="4" height="4" fill="url(#vg)"/>
<rect x="600" y="576" width="6" height="5" fill="#b83030"/>
<rect x="601" y="577" width="4" height="4" fill="url(#vr)"/>
<rect x="608" y="578" width="6" height="3" fill="#189a18"/>
<rect x="609" y="579" width="4" height="2" fill="url(#vg)"/>
<rect x="615" y="578" width="6" height="3" fill="#b83030"/>
<rect x="616" y="579" width="4" height="2" fill="url(#vr)"/>
<rect x="623" y="568" width="6" height="13" fill="#b83030"/>
<rect x="624" y="569" width="4" height="12" fill="url(#vr)"/>
<rect x="630" y="572" width="6" height="9" fill="#b83030"/>
<rect x="631" y="573" width="4" height="8" fill="url(#vr)"/>
<rect x="638" y="573" width="6" height="8" fill="#b83030"/>
<rect x="639" y="574" width="4" height="7" fill="url(#vr)"/>
<rect x="645" y="573" width="6" height="8" fill="#189a18"/>
<rect x="646" y="574" width="4" height="7" fill="url(#vg)"/>
<rect x="653" y="573" width="6" height="8" fill="#b83030"/>
<rect x="654" y="574" width="4" height="7" fill="url(#vr)"/>
<rect x="661" y="574" width="6" height="7" fill="#b83030"/>
<rect x="662" y="575" width="4" height="6" fill="url(#vr)"/>
<rect x="668" y="573" width="6" height="8" fill="#b83030"/>
<rect x="669" y="574" width="4" height="7" fill="url(#vr)"/>
<rect x="676" y="573" width="6" height="8" fill="#b83030"/>
<rect x="677" y="574" width="4" height="7" fill="url(#vr)"/>
<rect x="683" y="576" width="6" height="5" fill="#189a18"/>
<rect x="684" y="577" width="4" height="4" fill="url(#vg)"/>
<rect x="691" y="576" width="6" height="5" fill="#b83030"/>
<rect x="692" y="577" width="4" height="4" fill="url(#vr)"/>
<rect x="698" y="576" width="6" height="5" fill="#189a18"/>
<rect x="699" y="577" width="4" height="4" fill="url(#vg)"/>
<rect x="706" y="576" width="6" height="5" fill="#189a18"/>
<rect x="707" y="577" width="4" height="4" fill="url(#vg)"/>
<rect x="714" y="576" width="6" height="5" fill="#b83030"/>
<rect x="715" y="577" width="4" height="4" fill="url(#vr)"/>
<rect x="721" y="574" width="6" height="7" fill="#189a18"/>
<rect x="722" y="575" width="4" height="6" fill="url(#vg)"/>
<rect x="729" y="578" width="6" height="3" fill="#b83030"/>
<rect x="730" y="579" width="4" height="2" fill="url(#vr)"/>
</g>
<g shape-rendering="crispEdges">
<rect x="0" y="20" width="800" height="1" fill="#7d9ba8"/>
<rect x="0" y="412" width="743" height="1" fill="#6f8c98"/>
<rect x="0" y="415" width="743" height="1" fill="#6f8c98"/>
<rect x="0" y="493" width="743" height="1" fill="#6f8c98"/>
<rect x="0" y="496" width="743" height="1" fill="#6f8c98"/>
<rect x="0" y="581" width="743" height="1" fill="#6f8c98"/>
<rect x="742" y="20" width="1" height="393" fill="#6f8c98"/>
<rect x="742" y="415" width="1" height="79" fill="#6f8c98"/>
<rect x="742" y="496" width="1" height="86" fill="#6f8c98"/>
<rect x="0" y="0" width="1" height="600" fill="#6f8c98"/>
<rect x="799" y="0" width="1" height="600" fill="#6f8c98"/>
<rect x="0" y="599" width="800" height="1" fill="#6f8c98"/>
<rect x="743" y="35" width="4" height="1" fill="#6f8c98"/>
<rect x="743" y="63" width="4" height="1" fill="#6f8c98"/>
<rect x="743" y="90" width="4" height="1" fill="#6f8c98"/>
<rect x="743" y="117" width="4" height="1" fill="#6f8c98"/>
<rect x="743" y="145" width="4" height="1" fill="#6f8c98"/>
<rect x="743" y="172" width="4" height="1" fill="#6f8c98"/>
<rect x="743" y="200" width="4" height="1" fill="#6f8c98"/>
<rect x="743" y="227" width="4" height="1" fill="#6f8c98"/>
<rect x="743" y="255" width="4" height="1" fill="#6f8c98"/>
<rect x="743" y="282" width="4" height="1" fill="#6f8c98"/>
<rect x="743" y="309" width="4" height="1" fill="#6f8c98"/>
<rect x="743" y="337" width="4" height="1" fill="#6f8c98"/>
<rect x="743" y="364" width="4" height="1" fill="#6f8c98"/>
<rect x="743" y="392" width="4" height="1" fill="#6f8c98"/>
<rect x="743" y="421" width="4" height="1" fill="#6f8c98"/>
<rect x="743" y="436" width="4" height="1" fill="#6f8c98"/>
<rect x="743" y="451" width="4" height="1" fill="#6f8c98"/>
<rect x="743" y="467" width="4" height="1" fill="#6f8c98"/>
<rect x="743" y="482" width="4" height="1" fill="#6f8c98"/>
<rect x="743" y="429" width="2" height="1" fill="#6f8c98"/>
<rect x="743" y="444" width="2" height="1" fill="#6f8c98"/>
<rect x="743" y="459" width="2" height="1" fill="#6f8c98"/>
<rect x="743" y="474" width="2" height="1" fill="#6f8c98"/>
<rect x="743" y="489" width="2" height="1" fill="#6f8c98"/>
<rect x="743" y="509" width="4" height="1" fill="#6f8c98"/>
<rect x="743" y="533" width="4" height="1" fill="#6f8c98"/>
<rect x="743" y="557" width="4" height="1" fill="#6f8c98"/>
<rect x="743" y="521" width="2" height="1" fill="#6f8c98"/>
<rect x="743" y="545" width="2" height="1" fill="#6f8c98"/>
<rect x="743" y="569" width="2" height="1" fill="#6f8c98"/>
<rect x="28" y="582" width="1" height="3" fill="#6f8c98"/>
<rect x="59" y="582" width="1" height="3" fill="#6f8c98"/>
<rect x="89" y="582" width="1" height="3" fill="#6f8c98"/>
<rect x="119" y="582" width="1" height="3" fill="#6f8c98"/>
<rect x="149" y="582" width="1" height="3" fill="#6f8c98"/>
<rect x="180" y="582" width="1" height="3" fill="#6f8c98"/>
<rect x="210" y="582" width="1" height="3" fill="#6f8c98"/>
<rect x="240" y="582" width="1" height="3" fill="#6f8c98"/>
<rect x="270" y="582" width="1" height="3" fill="#6f8c98"/>
<rect x="308" y="582" width="1" height="3" fill="#6f8c98"/>
<rect x="331" y="582" width="1" height="3" fill="#6f8c98"/>
<rect x="361" y="582" width="1" height="3" fill="#6f8c98"/>
<rect x="391" y="582" width="1" height="3" fill="#6f8c98"/>
<rect x="422" y="582" width="1" height="3" fill="#6f8c98"/>
<rect x="467" y="582" width="1" height="3" fill="#6f8c98"/>
<rect x="512" y="582" width="1" height="3" fill="#6f8c98"/>
<rect x="543" y="582" width="1" height="3" fill="#6f8c98"/>
<rect x="573" y="582" width="1" height="3" fill="#6f8c98"/>
<rect x="603" y="582" width="1" height="3" fill="#6f8c98"/>
<rect x="641" y="582" width="1" height="3" fill="#6f8c98"/>
<rect x="664" y="582" width="1" height="3" fill="#6f8c98"/>
<rect x="694" y="582" width="1" height="3" fill="#6f8c98"/>
<rect x="724" y="582" width="1" height="3" fill="#6f8c98"/>
</g>
<rect x="1" y="21" width="28" height="13" fill="url(#lbl)"/>
<rect x="1" y="21" width="28" height="1" fill="#bdd6df" shape-rendering="crispEdges"/>
<rect x="1" y="21" width="1" height="13" fill="#bdd6df" shape-rendering="crispEdges"/>
<rect x="28" y="21" width="1" height="13" fill="#728e99" shape-rendering="crispEdges"/>
<rect x="1" y="33" width="28" height="1" fill="#728e99" shape-rendering="crispEdges"/>
<rect x="29" y="21" width="157" height="13" fill="url(#lbl)"/>
<rect x="29" y="21" width="157" height="1" fill="#bdd6df" shape-rendering="crispEdges"/>
<rect x="29" y="21" width="1" height="13" fill="#bdd6df" shape-rendering="crispEdges"/>
<rect x="185" y="21" width="1" height="13" fill="#728e99" shape-rendering="crispEdges"/>
<rect x="29" y="33" width="157" height="1" fill="#728e99" shape-rendering="crispEdges"/>
<rect x="186" y="21" width="157" height="13" fill="url(#lbl)"/>
<rect x="186" y="21" width="157" height="1" fill="#bdd6df" shape-rendering="crispEdges"/>
<rect x="186" y="21" width="1" height="13" fill="#bdd6df" shape-rendering="crispEdges"/>
<rect x="342" y="21" width="1" height="13" fill="#728e99" shape-rendering="crispEdges"/>
<rect x="186" y="33" width="157" height="1" fill="#728e99" shape-rendering="crispEdges"/>
<rect x="343" y="21" width="185" height="13" fill="url(#lbl)"/>
<rect x="343" y="21" width="185" height="1" fill="#bdd6df" shape-rendering="crispEdges"/>
<rect x="343" y="21" width="1" height="13" fill="#bdd6df" shape-rendering="crispEdges"/>
<rect x="527" y="21" width="1" height="13" fill="#728e99" shape-rendering="crispEdges"/>
<rect x="343" y="33" width="185" height="1" fill="#728e99" shape-rendering="crispEdges"/>
<rect x="1" y="416" width="101" height="13" fill="url(#lbl)"/>
<rect x="1" y="416" width="101" height="1" fill="#bdd6df" shape-rendering="crispEdges"/>
<rect x="1" y="416" width="1" height="13" fill="#bdd6df" shape-rendering="crispEdges"/>
<rect x="101" y="416" width="1" height="13" fill="#728e99" shape-rendering="crispEdges"/>
<rect x="1" y="428" width="101" height="1" fill="#728e99" shape-rendering="crispEdges"/>
<rect x="1" y="497" width="47" height="13" fill="url(#lbl)"/>
<rect x="1" y="497" width="47" height="1" fill="#bdd6df" shape-rendering="crispEdges"/>
<rect x="1" y="497" width="1" height="13" fill="#bdd6df" shape-rendering="crispEdges"/>
<rect x="47" y="497" width="1" height="13" fill="#728e99" shape-rendering="crispEdges"/>
<rect x="1" y="509" width="47" height="1" fill="#728e99" shape-rendering="crispEdges"/>
<text x="23.2" y="14" class="b">LG - LAFARGE</text>
<text x="115.2" y="14" class="b">57,38 (-0,61%)</text>
<text x="200.3" y="14" class="b">Täglich</text>
<text x="245.6" y="14" class="b">19 Aug 2014</text>
<text x="674.3" y="14" class="b">www.ProRealTime.com</text>
<text x="3.4" y="30">Kurs</text>
<text x="31" y="30" style="fill:#20cdd2">Gleit. Durchschnitt (Einfach 20)</text>
<text x="188.7" y="30" style="fill:#706e00;letter-spacing:-0.04px">Gleit. Durchschnitt (Einfach 40)</text>
<text x="345.5" y="30" style="fill:#2f62ee;letter-spacing:-0.05px">Gleit. Durchschnitt (Exponentiell 200)</text>
<text x="2.5" y="410">© ProRealTime.com</text>
<text x="106.2" y="410">Datenhistorie der Dividendenausschüttung angepasst</text>
<text x="3" y="425">Av True Range (10)</text>
<text x="3" y="506" style="fill:#e0646c">Volumen</text>
<text x="749" y="38">67</text>
<text x="749" y="66">66</text>
<text x="749" y="94" class="B">65</text>
<text x="749" y="120">64</text>
<text x="749" y="148">63</text>
<text x="749" y="175">62</text>
<text x="749" y="203">61</text>
<text x="749" y="231" class="B">60</text>
<text x="749" y="258">59</text>
<text x="749" y="285">58</text>
<text x="749" y="312">57</text>
<text x="749" y="340">56</text>
<text x="749" y="368" class="B">55</text>
<text x="749" y="395">54</text>
<text x="749.5" y="424">1,8</text>
<text x="749.5" y="439">1,6</text>
<text x="749.5" y="454">1,4</text>
<text x="749.5" y="470">1,2</text>
<text x="749.5" y="486" class="B">1</text>
<text x="749" y="512">6.000K</text>
<text x="749" y="536">4.000K</text>
<text x="749" y="560">2.000K</text>
<text x="28.5" y="596" text-anchor="middle">07</text>
<text x="59.5" y="596" text-anchor="middle">11</text>
<text x="89.5" y="596" text-anchor="middle">17</text>
<text x="119.5" y="596" text-anchor="middle">25</text>
<text x="149.5" y="596" text-anchor="middle" class="B">Mai</text>
<text x="180.5" y="596" text-anchor="middle">08</text>
<text x="210.5" y="596" text-anchor="middle">14</text>
<text x="240.5" y="596" text-anchor="middle">20</text>
<text x="270.5" y="596" text-anchor="middle">26</text>
<text x="308.5" y="596" text-anchor="middle" class="B">Jun</text>
<text x="331.5" y="596" text-anchor="middle">05</text>
<text x="361.5" y="596" text-anchor="middle">11</text>
<text x="391.5" y="596" text-anchor="middle">17</text>
<text x="422.5" y="596" text-anchor="middle">23</text>
<text x="467.5" y="596" text-anchor="middle" class="B">Jul</text>
<text x="512.5" y="596" text-anchor="middle">09</text>
<text x="543.5" y="596" text-anchor="middle">15</text>
<text x="573.5" y="596" text-anchor="middle">21</text>
<text x="603.5" y="596" text-anchor="middle">25</text>
<text x="641.5" y="596" text-anchor="middle" class="B">Aug</text>
<text x="664.5" y="596" text-anchor="middle">06</text>
<text x="694.5" y="596" text-anchor="middle">12</text>
<text x="724.5" y="596" text-anchor="middle">18</text>
<g shape-rendering="crispEdges">
<rect x="6" y="8" width="1" height="11" fill="#b82020"/><rect x="3" y="10" width="7" height="7" fill="#b82020"/><rect x="4" y="11" width="5" height="5" fill="url(#cr)"/>
<rect x="14" y="3" width="1" height="16" fill="#12a012"/><rect x="11" y="6" width="7" height="10" fill="#12a012"/><rect x="12" y="7" width="5" height="8" fill="url(#cg)"/>
</g>
<g shape-rendering="crispEdges">
<rect x="747" y="292" width="30" height="15" fill="#6f8c98"/><rect x="748" y="293" width="28" height="13" fill="url(#gold)"/>
<rect x="747" y="453" width="36" height="15" fill="#6f8c98"/><rect x="748" y="454" width="34" height="13" fill="url(#vbox)"/>
<rect x="747" y="564" width="42" height="15" fill="#6f8c98"/><rect x="748" y="565" width="40" height="13" fill="url(#vbox)"/>
</g>
<text x="749.6" y="303.5" style="letter-spacing:-0.15px">57,38</text>
<text x="750.2" y="464.5" style="letter-spacing:-0.2px">1,2851</text>
<text x="749.5" y="575.5" style="fill:#e05864;letter-spacing:-0.2px">271.210</text>
</svg></body></html>
